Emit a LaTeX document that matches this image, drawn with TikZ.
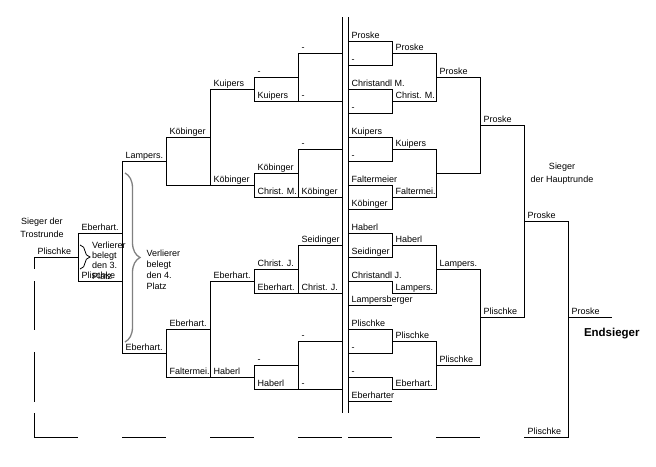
\documentclass[tikz,border=0pt]{standalone}
\usepackage{fontspec}
\setmainfont{Liberation Sans}
\usetikzlibrary{decorations.pathreplacing}

\begin{document}
\begin{tikzpicture}[x=1pt,y=-1pt,line width=1pt,
  lbl/.style={anchor=base west,inner sep=0pt,xshift=3pt,yshift=2.2pt,font=\fontsize{9}{11}\selectfont},
  note/.style={inner sep=0pt,font=\fontsize{9}{11}\selectfont}]
\useasboundingbox (0,0) rectangle (656,466);
\draw (342,17) -- (342,413);
\draw (348,17) -- (348,413);
\draw (348,41) node[lbl] (h1) {Proske} -- (392,41) -- (392,65) -- (348,65) node[lbl] (h2) {-};
\draw (348,89) node[lbl] (h3) {Christandl M.} -- (392,89) -- (392,113) -- (348,113) node[lbl] (h4) {-};
\draw (348,137) node[lbl] (h5) {Kuipers} -- (392,137) -- (392,161) -- (348,161) node[lbl] (h6) {-};
\draw (348,185) node[lbl] (h7) {Faltermeier} -- (392,185) -- (392,209) -- (348,209) node[lbl] (h8) {Köbinger};
\draw (348,233) node[lbl] (h9) {Haberl} -- (392,233) -- (392,257) -- (348,257) node[lbl] (h10) {Seidinger};
\draw (348,281) node[lbl] (h11) {Christandl J.} -- (392,281) -- (392,293);
\draw (348,305) node[lbl] (h12) {Lampersberger} -- (392,305);
\draw (348,329) node[lbl] (h13) {Plischke} -- (392,329) -- (392,353) -- (348,353) node[lbl] (h14) {-};
\draw (348,377) node[lbl] (h15) {-} -- (392,377) -- (392,389);
\draw (348,401) node[lbl] (h16) {Eberharter} -- (392,401);
\draw (392,53) node[lbl] (hh1) {Proske} -- (436,53) -- (436,101) -- (392,101) node[lbl] (hh2) {Christ. M.};
\draw (392,149) node[lbl] (hh3) {Kuipers} -- (436,149) -- (436,197) -- (392,197) node[lbl] (hh4) {Faltermei.};
\draw (392,245) node[lbl] (hh5) {Haberl} -- (436,245) -- (436,293) -- (392,293) node[lbl] (hh6) {Lampers.};
\draw (392,341) node[lbl] (hh7) {Plischke} -- (436,341) -- (436,389) -- (392,389) node[lbl] (hh8) {Eberhart.};
\draw (436,77) node[lbl] (vf1) {Proske} -- (480,77) -- (480,173) -- (436,173);
\draw (436,269) node[lbl] (vf3) {Lampers.} -- (480,269) -- (480,365) -- (436,365) node[lbl] (vf4) {Plischke};
\draw (480,125) node[lbl] (hf1) {Proske} -- (524,125) -- (524,317) -- (480,317) node[lbl] (hf2) {Plischke};
\draw (524,221) node[lbl] (fi1) {Proske} -- (568,221) -- (568,437) -- (524,437) node[lbl] (fi2) {Plischke};
\draw (568,317) node[lbl] (sieger) {Proske} -- (612,317);
\draw (342,53) -- (298,53) node[lbl] (t1) {-} -- (298,101) node[lbl] (t2) {-} -- (342,101);
\draw (342,149) -- (298,149) node[lbl] (t3) {-} -- (298,197) node[lbl] (t4) {Köbinger} -- (342,197);
\draw (342,245) -- (298,245) node[lbl] (t5) {Seidinger} -- (298,293) node[lbl] (t6) {Christ. J.} -- (342,293);
\draw (342,341) -- (298,341) node[lbl] (t7) {-} -- (298,389) node[lbl] (t8) {-} -- (342,389);
\draw (298,77) -- (254,77) node[lbl] (tt1) {-} -- (254,101) node[lbl] (tt2) {Kuipers} -- (298,101);
\draw (298,173) -- (254,173) node[lbl] (tt3) {Köbinger} -- (254,197) node[lbl] (tt4) {Christ. M.} -- (298,197);
\draw (298,269) -- (254,269) node[lbl] (tt5) {Christ. J.} -- (254,293) node[lbl] (tt6) {Eberhart.} -- (298,293);
\draw (298,365) -- (254,365) node[lbl] (tt7) {-} -- (254,389) node[lbl] (tt8) {Haberl} -- (298,389);
\draw (254,89) -- (210,89) node[lbl] (ttt1) {Kuipers} -- (210,185) node[lbl] (ttt2) {Köbinger} -- (254,185);
\draw (254,281) -- (210,281) node[lbl] (ttt3) {Eberhart.} -- (210,377) node[lbl] (ttt4) {Haberl} -- (254,377);
\draw (210,137) -- (166,137) node[lbl] (tv1) {Köbinger} -- (166,185) -- (210,185);
\draw (210,329) -- (166,329) node[lbl] (tv3) {Eberhart.} -- (166,377) node[lbl] (tv4) {Faltermei.} -- (210,377);
\draw (166,161) -- (122,161) node[lbl] (tf1) {Lampers.} -- (122,353) node[lbl] (tf2) {Eberhart.} -- (166,353);
\draw (122,233) -- (78,233) node[lbl] (tp1) {Eberhart.} -- (78,281) node[lbl] (tp2) {Plischke} -- (122,281);
\draw (78,257) -- (34,257) node[lbl] (trost) {Plischke} -- (34,269);
\draw (34,281) -- (34,330);
\draw (34,352) -- (34,402);
\draw (34,413) -- (34,437) -- (78,437);
\draw (122,437) -- (166,437);
\draw (210,437) -- (254,437);
\draw (298,437) -- (342,437);
\draw (348,437) -- (392,437);
\draw (436,437) -- (480,437);
\draw[gray,line width=1.3pt,decorate,decoration={brace,amplitude=15pt}] (125,173) -- (125,342);
\draw[line width=0.8pt,decorate,decoration={brace,amplitude=10pt}] (80,245) -- (80,269);
\node[note,align=left,anchor=base west] (platz4) at (146,289) {Verlierer\\belegt\\den 4.\\Platz};
\node[note,align=left,anchor=base west,font=\fontsize{9}{10.4}\selectfont] (platz3) at (91.5,279.3) {Verlierer\\belegt\\den 3.\\Platz};
\node[note,align=center,anchor=base,font=\fontsize{9}{13}\selectfont] (trostsieger) at (42,237) {Sieger der\\Trostrunde};
\node[note,align=center,anchor=base,font=\fontsize{9}{13}\selectfont] (hauptsieger) at (562,182.7) {Sieger\\der Hauptrunde};
\node[anchor=base west,inner sep=0pt,font=\bfseries\fontsize{11.5}{13}\selectfont] (endsieger) at (583.5,336.5) {Endsieger};
\end{tikzpicture}
\end{document}
